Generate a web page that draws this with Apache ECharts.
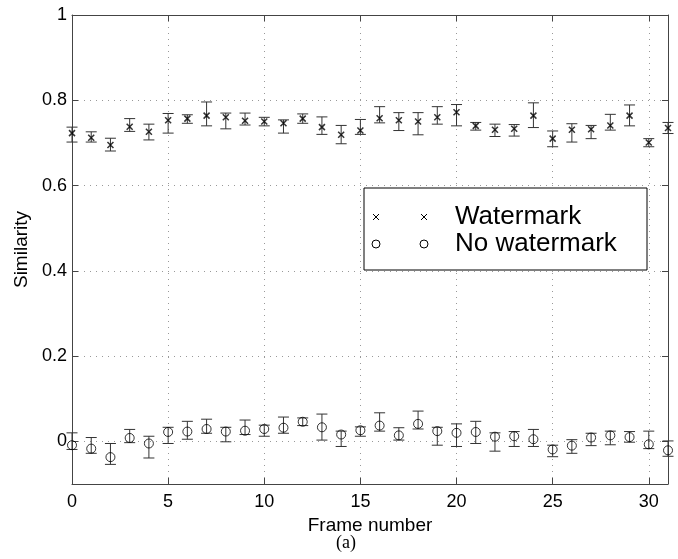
<!DOCTYPE html>
<html>
<head>
<meta charset="utf-8">
<script src="https://cdn.jsdelivr.net/npm/echarts@6/dist/echarts.min.js"></script>
<style>
    html, body { margin: 0; padding: 0; background: #fff; }
    #chart { width: 678px; height: 559px; }
</style>
</head>
<body>
<div id="chart"></div>
<script>
// frame numbers 0..31
const frames = [0, 1, 2, 3, 4, 5, 6, 7, 8, 9, 10, 11, 12, 13, 14, 15,
    16, 17, 18, 19, 20, 21, 22, 23, 24, 25, 26, 27, 28, 29, 30, 31]

// watermarked frames: mean, low, high
const wmMean = [0.723, 0.712, 0.695, 0.738, 0.726, 0.753, 0.757, 0.764, 0.760, 0.752, 0.750,
    0.746, 0.757, 0.737, 0.719, 0.729, 0.758, 0.753, 0.750, 0.760, 0.772, 0.740,
    0.731, 0.733, 0.764, 0.710, 0.731, 0.732, 0.741, 0.764, 0.701, 0.735]
const wmLow = [0.702, 0.702, 0.681, 0.727, 0.707, 0.723, 0.746, 0.740, 0.733, 0.742, 0.740,
    0.723, 0.746, 0.720, 0.698, 0.720, 0.747, 0.729, 0.719, 0.744, 0.740, 0.730,
    0.715, 0.716, 0.736, 0.691, 0.702, 0.710, 0.730, 0.740, 0.691, 0.722]
const wmHigh = [0.737, 0.726, 0.711, 0.757, 0.744, 0.769, 0.766, 0.796, 0.770, 0.770, 0.760,
    0.754, 0.768, 0.761, 0.741, 0.755, 0.785, 0.771, 0.771, 0.785, 0.790, 0.748,
    0.744, 0.743, 0.794, 0.728, 0.745, 0.741, 0.767, 0.789, 0.710, 0.748]

// frames without watermark
const noMean = [-0.009, -0.017, -0.037, 0.008, -0.005, 0.022, 0.023, 0.029, 0.023, 0.025, 0.029,
    0.032, 0.046, 0.033, 0.016, 0.026, 0.037, 0.014, 0.041, 0.024, 0.020, 0.022,
    0.011, 0.012, 0.005, -0.019, -0.010, 0.009, 0.014, 0.010, -0.007, -0.021]
const noLow = [-0.019, -0.028, -0.054, -0.003, -0.039, -0.005, 0.005, 0.019, -0.001, 0.016, 0.012,
    0.019, 0.037, 0.003, -0.012, 0.012, 0.024, 0.003, 0.029, -0.009, -0.012, -0.005,
    -0.023, -0.012, -0.012, -0.036, -0.028, -0.010, -0.008, -0.002, -0.017, -0.035]
const noHigh = [0.020, 0.009, -0.005, 0.028, 0.012, 0.033, 0.047, 0.052, 0.033, 0.050, 0.038,
    0.057, 0.055, 0.064, 0.024, 0.034, 0.067, 0.032, 0.071, 0.033, 0.041, 0.047,
    0.020, 0.023, 0.028, -0.009, 0.004, 0.019, 0.024, 0.023, 0.024, 0.001]

const xTicks = [0, 5, 10, 15, 20, 25, 30]
const yTicks = [0, 0.2, 0.4, 0.6, 0.8, 1]

const crossPath = 'path://M0,0L10,10M10,0L0,10'
const axisColor = '#444'
const font = 'Liberation Sans, Arial, sans-serif'

// error bar drawn as a vertical line with two caps
function errorBar(params, api) {
    const x = api.value(0)
    const lo = api.coord([x, api.value(1)])
    const hi = api.coord([x, api.value(2)])
    const w = 5.5
    const style = { stroke: '#333', lineWidth: 1 }
    return {
        type: 'group',
        children: [
            { type: 'line', shape: { x1: lo[0], y1: lo[1], x2: hi[0], y2: hi[1] }, style },
            { type: 'line', shape: { x1: lo[0] - w, y1: lo[1], x2: lo[0] + w, y2: lo[1] }, style },
            { type: 'line', shape: { x1: hi[0] - w, y1: hi[1], x2: hi[0] + w, y2: hi[1] }, style }
        ]
    }
}

// legend cross marker
function legendCross(cx, cy) {
    const s = { stroke: '#000', lineWidth: 1 }
    return [
        { type: 'line', z: 11, shape: { x1: cx - 3, y1: cy - 3, x2: cx + 3, y2: cy + 3 }, style: s },
        { type: 'line', z: 11, shape: { x1: cx + 3, y1: cy - 3, x2: cx - 3, y2: cy + 3 }, style: s }
    ]
}

const chart = echarts.init(document.getElementById('chart'))

const baseX = {
    type: 'value',
    min: 0,
    max: 31,
    axisLine: { show: true, onZero: false, lineStyle: { color: axisColor } },
    axisTick: { show: true, inside: true, length: 6, customValues: xTicks, lineStyle: { color: axisColor } },
    splitLine: { show: false }
}
const baseY = {
    type: 'value',
    min: -0.1,
    max: 1,
    axisLine: { show: true, onZero: false, lineStyle: { color: axisColor } },
    axisTick: { show: true, inside: true, length: 6, customValues: yTicks, lineStyle: { color: axisColor } },
    splitLine: { show: false }
}

chart.setOption({
    animation: false,
    grid: { left: 72, top: 15, right: 10, bottom: 75 },
    xAxis: [
        {
            ...baseX,
            position: 'bottom',
            name: 'Frame number',
            nameLocation: 'middle',
            nameGap: 26,
            nameTextStyle: { fontFamily: font, fontSize: 19, color: '#000' },
            axisLabel: { customValues: xTicks, margin: 9, fontFamily: font, fontSize: 18, color: '#000' },
            splitLine: { show: true, lineStyle: { color: '#999', type: [1, 5] } }
        },
        { ...baseX, position: 'top', axisLabel: { show: false } }
    ],
    yAxis: [
        {
            ...baseY,
            position: 'left',
            name: 'Similarity',
            nameLocation: 'middle',
            nameGap: 34,
            nameTextStyle: { fontFamily: font, fontSize: 19, color: '#000' },
            axisLabel: {
                customValues: yTicks, margin: 5, fontFamily: font, fontSize: 18, color: '#000',
                formatter: v => String(Math.round(v * 10) / 10)
            },
            splitLine: { show: true, lineStyle: { color: '#999', type: [1, 5] } }
        },
        { ...baseY, position: 'right', axisLabel: { show: false } }
    ],
    series: [
        {
            type: 'custom',
            renderItem: errorBar,
            clip: false,
            data: frames.map((f, i) => [f, wmLow[i], wmHigh[i]]),
            z: 2
        },
        {
            type: 'custom',
            renderItem: errorBar,
            clip: false,
            data: frames.map((f, i) => [f, noLow[i], noHigh[i]]),
            z: 2
        },
        {
            name: 'Watermark',
            type: 'scatter',
            clip: false,
            symbol: crossPath,
            symbolSize: 6,
            itemStyle: { color: 'none', borderColor: '#000', borderWidth: 1.5 },
            data: frames.map((f, i) => [f, wmMean[i]]),
            z: 3
        },
        {
            name: 'No watermark',
            type: 'scatter',
            clip: false,
            symbol: 'circle',
            symbolSize: 9,
            itemStyle: { color: 'none', borderColor: '#000', borderWidth: 1 },
            data: frames.map((f, i) => [f, noMean[i]]),
            z: 3
        }
    ],
    graphic: [
        {
            type: 'rect',
            shape: { x: 364, y: 188, width: 283, height: 82 },
            style: { fill: '#fff', stroke: '#000', lineWidth: 1 },
            z: 10
        },
        ...legendCross(376, 217),
        ...legendCross(424, 217),
        { type: 'circle', shape: { cx: 376, cy: 244, r: 4 }, style: { fill: 'none', stroke: '#000', lineWidth: 1 }, z: 11 },
        { type: 'circle', shape: { cx: 424, cy: 244, r: 4 }, style: { fill: 'none', stroke: '#000', lineWidth: 1 }, z: 11 },
        {
            type: 'text', x: 455, y: 217, z: 11,
            style: { text: 'Watermark', font: '26px ' + font, fill: '#000', verticalAlign: 'middle' }
        },
        {
            type: 'text', x: 455, y: 244, z: 11,
            style: { text: 'No watermark', font: '26px ' + font, fill: '#000', verticalAlign: 'middle' }
        },
        {
            type: 'text', x: 346, y: 543, z: 11,
            style: { text: '(a)', font: '18px Liberation Serif, serif', fill: '#000', align: 'center', verticalAlign: 'middle' }
        }
    ]
})
</script>
</body>
</html>
